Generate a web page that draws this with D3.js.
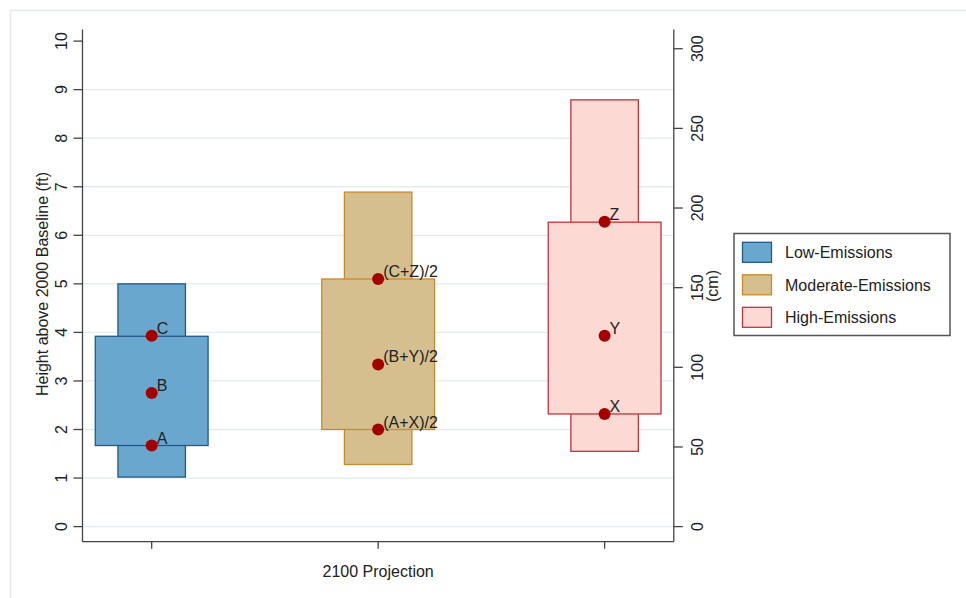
<!DOCTYPE html>
<html>
<head>
<meta charset="utf-8">
<script src="https://cdn.jsdelivr.net/npm/d3@7"></script>
<style>
  html, body { margin: 0; padding: 0; background: #fff; }
  svg { display: block; font-family: "Liberation Sans", Arial, sans-serif; }
</style>
</head>
<body>
<svg id="chart" width="966" height="598"></svg>
<script>
// ---- data ----
const categories = ["Low-Emissions", "Moderate-Emissions", "High-Emissions"];
const outerLow  = [1.02, 1.28, 1.55];
const outerHigh = [5.00, 6.89, 8.79];
const innerLow  = [1.67, 2.00, 2.32];
const innerHigh = [3.92, 5.10, 6.27];
const pointLow  = [1.67, 2.00, 2.32];
const pointMid  = [2.75, 3.34, 3.93];
const pointHigh = [3.93, 5.10, 6.28];
const labelLow  = ["A", "(A+X)/2", "X"];
const labelMid  = ["B", "(B+Y)/2", "Y"];
const labelHigh = ["C", "(C+Z)/2", "Z"];
const ftTicks = [0, 1, 2, 3, 4, 5, 6, 7, 8, 9, 10];
const cmTicks = [0, 50, 100, 150, 200, 250, 300];
const xTitle = "2100 Projection";
const yTitle = "Height above 2000 Baseline (ft)";
const y2Title = "(cm)";

// ---- styles ----
const fills   = ["#6aa7cf", "#d5bf8e", "#fcd9d3"];
const strokes = ["#21598a", "#c98a2c", "#c2343c"];
const dotColor = "#a30000";
const axisColor = "#444";
const textColor = "#222";
const gridColor = "#e2ebee";

const svg = d3.select("#chart");

// outer graph-region frame (top/left visible)
svg.append("line").attr("x1", 10).attr("x2", 966).attr("y1", 10.5).attr("y2", 10.5)
  .attr("stroke", "#e4e9eb").attr("stroke-width", 1.5);
svg.append("line").attr("x1", 10.5).attr("x2", 10.5).attr("y1", 10).attr("y2", 598)
  .attr("stroke", "#e4e9eb").attr("stroke-width", 1.5);

const left = 82.5, right = 673.8;
const x = d3.scalePoint().domain(categories).range([left, right]).padding(0.3055);
const step = x.step();
const y = d3.scaleLinear().domain([0, 10]).range([526.6, 41.1]);
const yCm = d3.scaleLinear().domain([0, 304.8]).range([526.6, 41.1]);
const yTop = y(10.24), yBot = y(-0.31);

// gridlines
svg.append("g").selectAll("line").data(ftTicks.filter(d => d < 10)).join("line")
  .attr("x1", left).attr("x2", right)
  .attr("y1", d => y(d)).attr("y2", d => y(d))
  .attr("stroke", gridColor).attr("stroke-width", 1.3);

// boxes
const gBoxes = svg.append("g");
categories.forEach((c, i) => {
  const cx = x(c);
  const wOuter = step * 0.298, wInner = step * 0.498;
  gBoxes.append("rect")
    .attr("x", cx - wOuter / 2).attr("width", wOuter)
    .attr("y", y(outerHigh[i])).attr("height", y(outerLow[i]) - y(outerHigh[i]))
    .attr("fill", fills[i]).attr("stroke", strokes[i]).attr("stroke-width", 1.3);
  gBoxes.append("rect")
    .attr("x", cx - wInner / 2).attr("width", wInner)
    .attr("y", y(innerHigh[i])).attr("height", y(innerLow[i]) - y(innerHigh[i]))
    .attr("fill", fills[i]).attr("stroke", strokes[i]).attr("stroke-width", 1.3);
});

// points + labels
const pts = [];
categories.forEach((c, i) => {
  pts.push({ c, v: pointLow[i], t: labelLow[i] });
  pts.push({ c, v: pointMid[i], t: labelMid[i] });
  pts.push({ c, v: pointHigh[i], t: labelHigh[i] });
});
const gPts = svg.append("g");
gPts.selectAll("circle").data(pts).join("circle")
  .attr("cx", d => x(d.c)).attr("cy", d => y(d.v)).attr("r", 6)
  .attr("fill", dotColor);
gPts.selectAll("text").data(pts).join("text")
  .attr("x", d => x(d.c) + 5).attr("y", d => y(d.v) - 2)
  .attr("font-size", 16).attr("fill", textColor)
  .text(d => d.t);

// axes lines
const gAx = svg.append("g").attr("stroke", axisColor).attr("stroke-width", 1.3);
gAx.append("line").attr("x1", left).attr("x2", left).attr("y1", yTop).attr("y2", yBot);
gAx.append("line").attr("x1", right).attr("x2", right).attr("y1", yTop).attr("y2", yBot);
gAx.append("line").attr("x1", left).attr("x2", right).attr("y1", yBot).attr("y2", yBot);

// left ticks
gAx.append("g").selectAll("line").data(ftTicks).join("line")
  .attr("x1", left - 9).attr("x2", left).attr("y1", d => y(d)).attr("y2", d => y(d));
svg.append("g").selectAll("text").data(ftTicks).join("text")
  .attr("transform", d => `translate(66.5,${y(d)}) rotate(-90)`)
  .attr("text-anchor", "middle").attr("font-size", 16).attr("fill", textColor)
  .text(d => d);

// right ticks (cm)
gAx.append("g").selectAll("line").data(cmTicks).join("line")
  .attr("x1", right).attr("x2", right + 9).attr("y1", d => yCm(d)).attr("y2", d => yCm(d));
svg.append("g").selectAll("text").data(cmTicks).join("text")
  .attr("transform", d => `translate(702.5,${yCm(d)}) rotate(-90)`)
  .attr("text-anchor", "middle").attr("font-size", 16).attr("fill", textColor)
  .text(d => d);

// x ticks
gAx.append("g").selectAll("line").data(categories).join("line")
  .attr("x1", d => x(d)).attr("x2", d => x(d)).attr("y1", yBot).attr("y2", yBot + 7);

// titles
svg.append("text").attr("x", (left + right) / 2).attr("y", 576.5)
  .attr("text-anchor", "middle").attr("font-size", 16).attr("fill", textColor).text(xTitle);
svg.append("text").attr("transform", `translate(47.5,284) rotate(-90)`)
  .attr("text-anchor", "middle").attr("font-size", 16).attr("fill", textColor).text(yTitle);
svg.append("text").attr("transform", `translate(718,286) rotate(-90)`)
  .attr("text-anchor", "middle").attr("font-size", 16).attr("fill", textColor).text(y2Title);

// legend
const lg = svg.append("g");
lg.append("rect").attr("x", 734).attr("y", 233.5).attr("width", 216).attr("height", 102)
  .attr("fill", "#fff").attr("stroke", "#555").attr("stroke-width", 1.5);
categories.forEach((c, i) => {
  const cy = 252.3 + i * 32.5;
  lg.append("rect").attr("x", 742.5).attr("y", cy - 10).attr("width", 29).attr("height", 20)
    .attr("fill", fills[i]).attr("stroke", strokes[i]).attr("stroke-width", 1.3);
  lg.append("text").attr("x", 785).attr("y", cy + 6)
    .attr("font-size", 16).attr("fill", textColor).text(c);
});
</script>
</body>
</html>
